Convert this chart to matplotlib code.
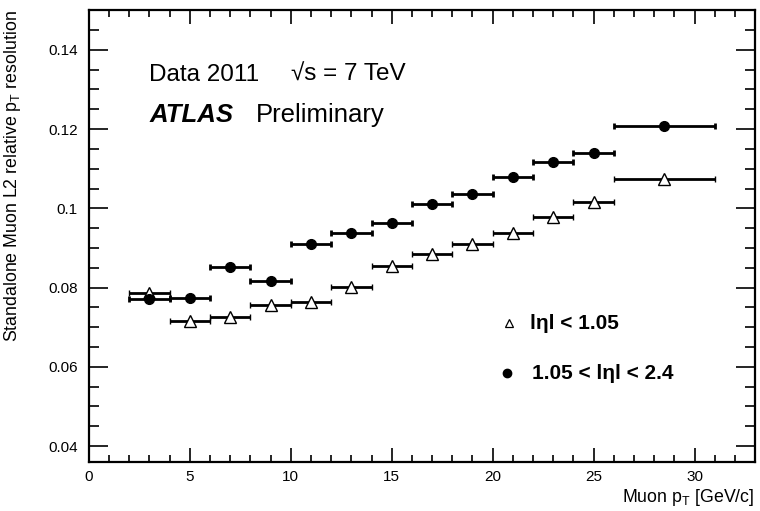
import numpy as np
import matplotlib
matplotlib.use("Agg")
import matplotlib.pyplot as plt
from matplotlib.ticker import MultipleLocator

plt.rcParams["font.family"] = ["Liberation Sans", "DejaVu Sans"]

# bin centres and half-widths (GeV/c)
PT = [3, 5, 7, 9, 11, 13, 15, 17, 19, 21, 23, 25, 28.5]
PT_LO = [1, 1, 1, 1, 1, 1, 1, 1, 1, 1, 1, 1, 2.5]
PT_HI = [1, 1, 1, 1, 1, 1, 1, 1, 1, 1, 1, 1, 2.5]

# |eta| < 1.05
RES_BARREL = [0.0786, 0.0715, 0.0726, 0.0757, 0.0764, 0.0802, 0.0855,
              0.0884, 0.0909, 0.0939, 0.0979, 0.1017, 0.1075]
# 1.05 < |eta| < 2.4
RES_ENDCAP = [0.0771, 0.0775, 0.0851, 0.0816, 0.0909, 0.0937, 0.0962,
              0.1010, 0.1037, 0.1078, 0.1116, 0.1139, 0.1209]

fig = plt.figure(figsize=(7.6, 5.11), dpi=100)
ax = fig.add_axes([0.117, 0.096, 0.8765, 0.884])

xerr = [PT_LO, PT_HI]
ax.errorbar(PT, RES_BARREL, xerr=xerr, fmt="^", ms=8, mfc="white", mec="black",
            mew=1.0, ecolor="black", elinewidth=2, capsize=2.5, capthick=2,
            color="black", zorder=3)
ax.errorbar(PT, RES_ENDCAP, xerr=xerr, fmt="o", ms=7, mfc="black", mec="black",
            ecolor="black", elinewidth=2, capsize=2.5, capthick=2,
            color="black", zorder=3)

ax.set_xlim(0, 33)
ax.set_ylim(0.036, 0.15)
ax.xaxis.set_major_locator(MultipleLocator(5))
ax.xaxis.set_minor_locator(MultipleLocator(1))
ax.yaxis.set_major_locator(MultipleLocator(0.02))
ax.yaxis.set_minor_locator(MultipleLocator(0.005))
ax.yaxis.set_major_formatter(plt.FuncFormatter(lambda v, p: f"{v:g}"))

ax.tick_params(which="both", direction="in", top=True, right=True,
               labelsize=11, width=1.2)
ax.tick_params(axis="x", which="major", length=10, pad=6)
ax.tick_params(axis="x", which="minor", length=5)
ax.tick_params(axis="y", which="major", length=14, pad=8)
ax.tick_params(axis="y", which="minor", length=7)
for s in ax.spines.values():
    s.set_linewidth(1.6)

fig.text(0.016, 0.98, "Standalone Muon L2 relative p$_\\mathregular{T}$ resolution",
         rotation=90, ha="center", va="top", fontsize=12.8)
fig.text(0.992, 0.027, "Muon p$_\\mathregular{T}$ [GeV/c]",
         ha="right", va="center", fontsize=12.8)

ax.text(3.0, 0.1337, "Data 2011", fontsize=17.5, va="center")
ax.text(10.0, 0.1337, "\u221as = 7 TeV", fontsize=17.5, va="center")
ax.text(3.0, 0.1236, "ATLAS", fontsize=18.5, fontweight="bold",
        fontstyle="italic", va="center")
ax.text(8.26, 0.1236, "Preliminary", fontsize=18.5, va="center")

# legend
ax.plot([20.8], [0.0710], marker="^", ms=6, mfc="white", mec="black",
        mew=0.9, ls="none")
ax.plot([20.7], [0.0584], marker="o", ms=6, color="black", ls="none")
ax.text(21.85, 0.0710, "l\u03b7l < 1.05", fontsize=15, fontweight="bold",
        va="center")
ax.text(21.95, 0.0584, "1.05 < l\u03b7l < 2.4", fontsize=15, fontweight="bold",
        va="center")

fig.savefig("out.png", dpi=100)
